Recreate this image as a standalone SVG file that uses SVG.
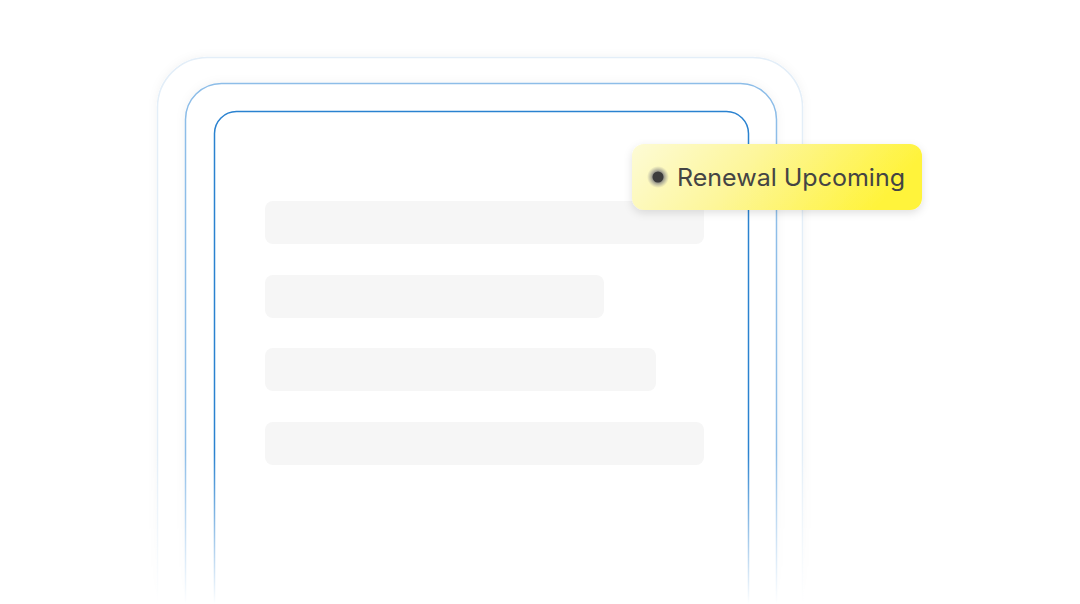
<svg xmlns="http://www.w3.org/2000/svg" width="1080" height="604" viewBox="0 0 1080 604">
<defs>
<linearGradient id="fade" x1="0" y1="0" x2="0" y2="1"><stop offset="0" stop-color="#fff"/><stop offset="0.75" stop-color="#fff"/><stop offset="1" stop-color="#000"/></linearGradient>
<mask id="m" maskUnits="userSpaceOnUse" x="0" y="0" width="1080" height="604"><rect x="0" y="0" width="1080" height="604" fill="url(#fade)"/></mask>
<linearGradient id="badge" x1="0" y1="0" x2="1" y2="0.2"><stop offset="0" stop-color="#fdfbd6"/><stop offset="0.45" stop-color="#fdf69a"/><stop offset="1" stop-color="#fff33a"/></linearGradient>
<radialGradient id="halo"><stop offset="0.4" stop-color="#777"/><stop offset="1" stop-color="#999" stop-opacity="0"/></radialGradient>
<filter id="sh" x="-20%" y="-40%" width="140%" height="180%"><feDropShadow dx="0" dy="3" stdDeviation="4" flood-color="#000" flood-opacity="0.12"/></filter>
<filter id="sh2" x="-10%" y="-10%" width="120%" height="120%"><feDropShadow dx="0" dy="0" stdDeviation="5" flood-color="#000" flood-opacity="0.05"/></filter>
<style>.bar{fill:#f6f6f6}</style>
</defs>
<rect width="1080" height="604" fill="#fff"/>
<g id="frames" mask="url(#m)" fill="none">
<rect x="157.5" y="57.5" width="645" height="620" rx="50" stroke="#e3eef8" stroke-width="1.5" fill="#fff" filter="url(#sh2)"/>
<rect x="185.5" y="83.5" width="591" height="600" rx="36" stroke="#8dbde8" stroke-width="1.5" fill="#fff" filter="url(#sh2)"/>
<rect x="214.5" y="111.5" width="534" height="580" rx="22" stroke="#2a82d0" stroke-width="1.5" fill="#fff"/>
</g>
<g id="bars">
<rect class="bar" x="265" y="201" width="439" height="43" rx="8"/>
<rect class="bar" x="265" y="275" width="339" height="43" rx="8"/>
<rect class="bar" x="265" y="348" width="391" height="43" rx="8"/>
<rect class="bar" x="265" y="422" width="439" height="43" rx="8"/>
</g>
<g id="badge-node">
<rect x="632" y="144" width="290" height="66" rx="12" fill="url(#badge)" filter="url(#sh)"/>
<circle cx="658" cy="177" r="11" fill="url(#halo)"/>
<circle cx="658" cy="177" r="5.5" fill="#3c3c3c"/>
<text x="677" y="186" font-family="Inter, 'Liberation Sans', sans-serif" font-size="24" fill="#444" textLength="228" lengthAdjust="spacingAndGlyphs">Renewal Upcoming</text>
</g>
</svg>
